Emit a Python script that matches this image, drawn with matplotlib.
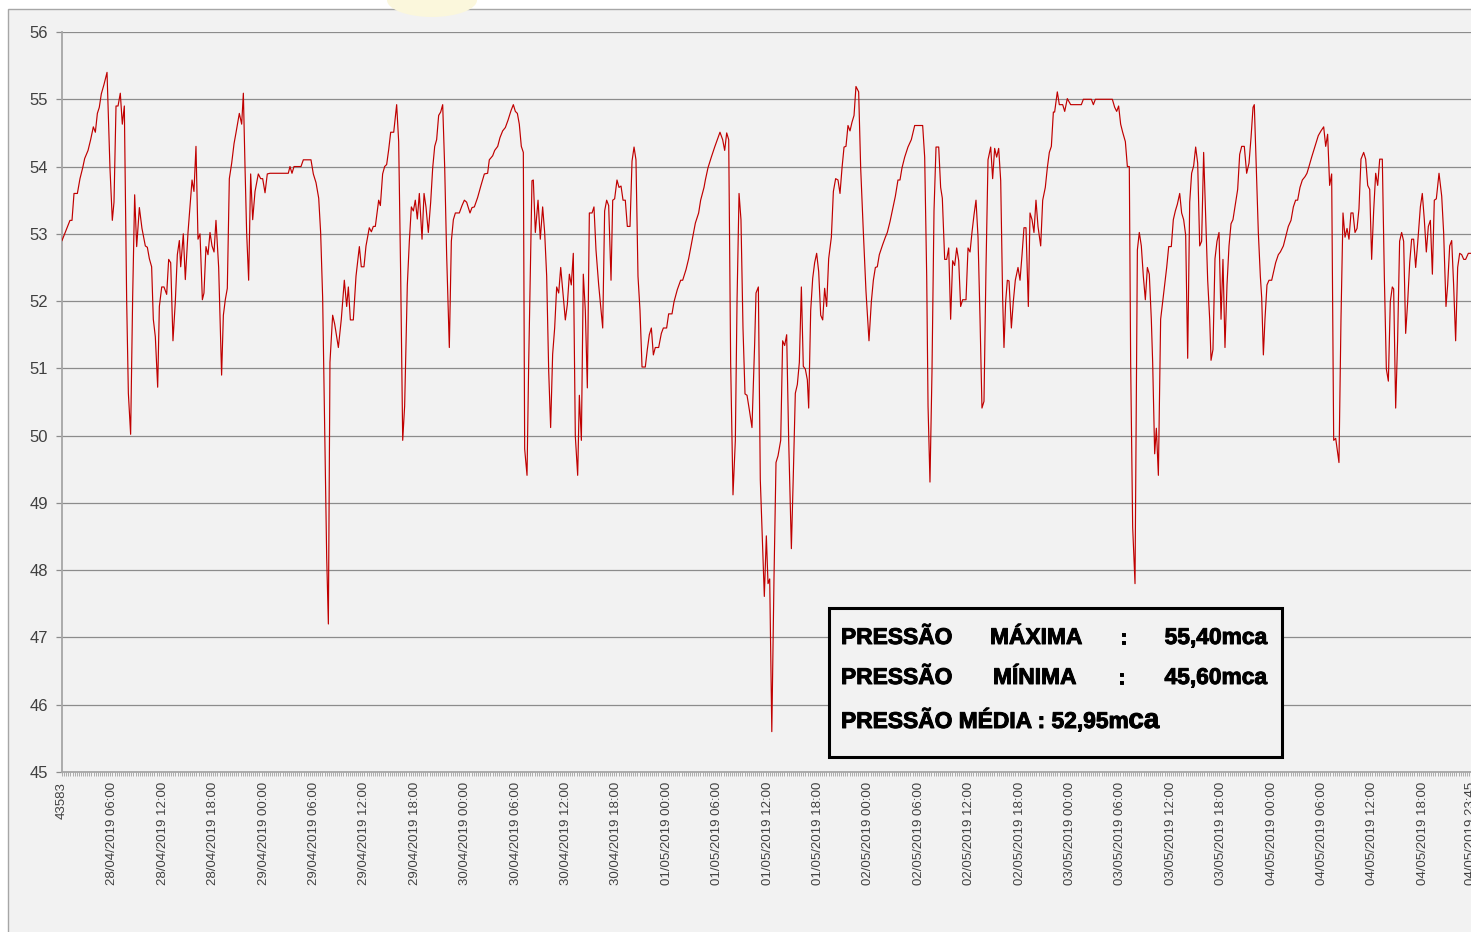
import matplotlib.pyplot as plt
import numpy as np
from matplotlib import patheffects
from matplotlib.patches import Rectangle, Ellipse

W, H = 1471, 932

# hours since 28/04/2019 00:00, pressure in mca
hours = [
    0.0, 0.95, 1.19, 1.43, 1.83, 2.14, 2.46, 2.7, 3.1, 3.41, 3.73, 3.97, 4.21, 4.44, 4.68, 5.0,
    5.36, 5.71, 5.99, 6.19, 6.43, 6.67, 6.94, 7.18, 7.42, 7.7, 7.9, 8.17, 8.41, 8.65, 8.89, 9.21,
    9.52, 9.92, 10.16, 10.4, 10.67, 10.87, 11.11, 11.39, 11.59, 11.87, 12.14, 12.46, 12.7, 12.94,
    13.21, 13.49, 13.73, 13.97, 14.13, 14.44, 14.68, 15.0, 15.24, 15.48, 15.71, 15.95, 16.19,
    16.43, 16.71, 16.9, 17.14, 17.38, 17.62, 17.86, 18.1, 18.33, 18.65, 19.0, 19.21, 19.44, 19.68,
    19.92, 20.2, 20.48, 20.71, 21.11, 21.39, 21.59, 21.79, 21.98, 22.22, 22.46, 22.7, 22.98, 23.37,
    23.65, 23.89, 24.17, 24.44, 24.76, 26.94, 27.14, 27.38, 27.62, 28.45, 28.73, 29.64,
    29.92, 30.24, 30.56, 30.79, 31.03, 31.27, 31.51, 31.71, 31.9, 32.22, 32.46, 32.9, 33.25,
    33.61, 33.89, 34.09, 34.33, 34.68, 35.0, 35.4, 35.63, 35.95, 36.19, 36.58, 36.83, 37.06,
    37.3, 37.7, 37.9, 38.17, 38.41, 38.65, 38.89, 39.13, 39.49, 39.84, 40.08, 40.32, 40.56,
    40.79, 41.11, 41.35, 41.59, 41.83, 42.06, 42.3, 42.54, 42.86, 43.1, 43.33, 43.61, 43.89,
    44.13, 44.37, 44.6, 44.84, 45.08, 45.32, 45.56, 45.79, 46.11, 46.35, 46.59, 46.83, 47.3,
    47.62, 47.9, 48.17, 48.57, 48.81, 49.09, 49.48, 49.88, 50.28, 50.67, 50.87, 51.27, 51.51,
    51.87, 52.14, 52.46, 52.78, 53.1, 53.45, 53.73, 53.97, 54.21, 54.44, 54.68, 54.92, 55.08,
    55.36, 55.56, 55.95,
    56.11, 56.35, 56.67, 56.94, 57.22, 57.46, 57.7, 57.94, 58.17, 58.41, 58.65, 58.89, 59.13,
    59.37, 59.6, 59.92, 60.16, 60.4, 60.63, 60.87, 61.11, 61.39, 61.59, 61.83, 62.06, 62.3,
    62.54, 62.78, 63.1, 63.33, 63.57, 63.89, 64.13, 64.37, 64.6, 64.84, 65.08, 65.36, 65.56,
    65.79, 66.07, 66.31, 66.55, 66.79, 67.06, 67.3, 67.62, 67.86, 68.1, 68.33, 68.57, 68.81,
    69.05, 69.44, 69.68, 69.92, 70.16, 70.4, 70.63, 71.03, 71.35, 71.59, 71.98, 72.22, 72.62,
    72.86, 73.25, 73.65, 73.89, 74.29, 74.6, 74.92, 75.2, 75.4, 75.79, 76.03, 76.43, 76.59,
    76.9, 77.3, 77.7, 78.02, 78.33, 78.65, 78.89, 79.13, 79.37, 79.6, 79.88, 80.16, 80.36,
    80.6, 80.83, 81.07, 81.31, 81.55, 81.83, 82.14, 82.46, 82.62, 82.9, 83.13, 83.33, 83.61,
    83.85, 84.05,
    84.25, 84.5, 84.76, 85.0, 85.24, 85.56, 85.79, 86.03, 86.27, 86.51, 86.83, 87.06, 87.3,
    87.54, 87.78, 88.02, 88.25, 88.49, 88.73, 88.89, 89.13, 89.37, 89.6, 89.84, 90.08, 90.32,
    90.56, 90.79, 91.03, 91.27, 91.59, 91.83, 92.1, 92.38, 92.62, 92.86, 93.1, 93.33, 93.57,
    93.81, 94.05, 94.29, 94.52, 94.84, 95.08, 95.4, 95.71, 96.07, 96.35, 96.59, 96.83, 97.06,
    97.3, 97.7, 98.02, 98.25, 98.57, 98.89, 99.21, 99.52, 99.76, 100.0, 100.32, 100.71,
    101.11, 101.51, 102.46, 102.7, 102.94, 103.1, 103.33, 103.57, 103.81, 104.05, 104.37,
    104.6, 104.8, 105.08, 105.32, 105.56, 105.79, 106.03, 106.27, 106.51, 106.75, 106.98,
    107.22, 107.62, 107.86, 108.1, 108.33, 108.57, 108.81, 109.05, 109.29, 109.52, 109.76,
    110.0, 110.24, 110.56, 110.79, 111.03, 111.27, 111.51, 111.75, 111.98, 112.14,
    112.34, 112.54, 112.74, 113.02, 113.25, 113.49, 113.81, 114.05, 114.29, 114.52, 114.76,
    115.04, 115.24, 115.48, 115.71, 115.95, 116.19, 116.51, 116.75, 117.06, 117.3, 117.54,
    117.78, 118.02, 118.17, 118.49, 118.73, 119.13, 119.37, 119.68, 120.08, 121.35, 121.59,
    122.54, 122.78, 123.02, 125.04, 125.32, 125.56, 125.79, 126.03, 126.27, 126.59, 126.83,
    127.06, 127.22, 127.46, 127.74, 128.02, 128.25, 128.49, 128.73, 128.97, 129.21, 129.44,
    129.68, 129.84, 130.08, 130.28, 130.52, 130.79, 131.03, 131.27, 131.51, 131.75, 132.06,
    132.3, 132.54, 132.78, 133.06, 133.29, 133.53, 133.77, 134.01, 134.25, 134.48, 134.72,
    134.96, 135.2, 135.44, 135.67, 135.91, 136.15, 136.39, 136.63, 136.79, 137.02, 137.26,
    137.5, 137.74, 137.98, 138.21, 138.45, 138.69, 138.93, 139.17, 139.4, 139.64, 139.96,
    140.2, 140.44, 140.75, 141.03, 141.31, 141.55, 141.79, 141.94, 142.18, 142.42, 142.66,
    142.82, 143.02, 143.21, 143.45, 143.69, 144.01, 144.25, 144.48, 144.8, 145.04, 145.4,
    145.67, 145.99, 146.31, 146.59, 146.86, 147.1, 147.38, 147.66, 147.98, 148.21, 148.45,
    148.77, 149.17, 149.56, 149.88, 150.2, 150.44, 150.67, 150.91, 151.15, 151.39, 151.63,
    152.02, 152.26, 152.5, 152.74, 152.98, 153.21, 153.45, 153.69, 153.93, 154.17, 154.4,
    154.64, 154.96, 155.2, 155.44, 155.68, 155.91, 156.15, 156.39, 156.63, 156.87, 157.18,
    157.42, 157.66, 157.9, 158.13, 158.37, 158.53, 158.77, 159.0, 159.24, 159.48, 159.72,
    159.96, 160.2, 160.44, 160.67, 160.91, 161.15, 161.39, 161.71, 161.94, 162.18, 162.42,
    162.66, 162.9, 163.14, 163.37, 163.61, 163.93, 164.25, 164.48, 164.76, 164.96, 165.2,
    165.44, 165.67, 165.91, 166.15, 166.39, 166.63, 166.87, 167.1, 167.42, 167.75,
]

pressure = [
    52.9, 53.2, 53.2, 53.6, 53.6, 53.82, 53.98, 54.12, 54.24, 54.4, 54.59, 54.51, 54.79, 54.88, 55.08, 55.22,
    55.4, 53.98, 53.2, 53.47, 54.9, 54.9, 55.09, 54.63, 54.9, 51.99, 50.63, 50.02, 52.05, 53.58, 52.81, 53.39,
    53.08, 52.82, 52.8, 52.63, 52.51, 51.73, 51.47, 50.72, 51.92, 52.21, 52.21, 52.1, 52.62, 52.57,
    51.41, 51.99, 52.69, 52.9, 52.51, 53.0, 52.32, 53.02, 53.4, 53.8, 53.63, 54.3, 52.92,
    53.0, 52.02, 52.12, 52.81, 52.69, 53.02, 52.82, 52.73, 53.2, 52.5, 50.9, 51.79, 52.02, 52.19,
    53.82, 54.05, 54.34, 54.5, 54.79, 54.63, 55.09, 53.98, 53.02, 52.31, 53.89, 53.21, 53.63, 53.89,
    53.82, 53.82, 53.61, 53.89, 53.9, 53.9, 54.0, 53.9, 54.0, 54.0, 54.1, 54.1,
    53.89, 53.76, 53.53, 53.02, 52.05, 50.12, 48.19, 47.2, 51.09, 51.79, 51.66, 51.31, 51.73,
    52.31, 51.92, 52.21, 51.72, 51.72, 52.37, 52.81, 52.51, 52.51, 52.82, 53.09, 53.03, 53.11,
    53.11, 53.5, 53.42, 53.89, 54.0, 54.03, 54.25, 54.51, 54.51, 54.92, 54.37, 52.37, 49.93,
    50.44, 52.24, 52.89, 53.4, 53.34, 53.5, 53.22, 53.6, 52.92, 53.6, 53.4, 53.02, 53.47,
    53.98, 54.3, 54.4, 54.76, 54.81, 54.92, 53.98, 52.69, 51.31, 52.89, 53.21, 53.31, 53.31,
    53.42, 53.5, 53.47, 53.31, 53.39, 53.4, 53.54, 53.72, 53.89, 53.9, 54.1, 54.16, 54.24,
    54.3, 54.43, 54.53, 54.58, 54.69, 54.83, 54.92, 54.82, 54.79, 54.63, 54.3, 54.21, 49.8,
    49.41, 51.09, 53.79,
    53.8, 53.02, 53.5, 52.92, 53.4, 53.02, 52.37, 50.96, 50.12, 51.21, 51.6, 52.21, 52.12,
    52.5, 52.18, 51.72, 51.95, 52.4, 52.24, 52.71, 49.99, 49.41, 50.6, 49.93, 52.4, 51.86,
    50.71, 53.31, 53.31, 53.4, 52.76, 52.24, 51.92, 51.6, 53.34, 53.5, 53.42, 52.31, 53.5,
    53.52, 53.8, 53.69, 53.71, 53.5, 53.5, 53.11, 53.11, 54.08, 54.29, 54.1, 52.37, 51.86,
    51.02, 51.02, 51.28, 51.5, 51.6, 51.2, 51.31, 51.31, 51.52, 51.6, 51.6, 51.81, 51.81,
    51.99, 52.17, 52.31, 52.31, 52.47, 52.63, 52.84, 53.03, 53.16, 53.31, 53.5, 53.69, 53.8,
    53.98, 54.14, 54.29, 54.4, 54.51, 54.4, 54.24, 54.5, 54.4, 51.09, 49.12, 49.93, 51.99,
    53.6, 53.21, 51.6, 50.62, 50.6, 50.38, 50.12, 51.37, 52.12, 52.21, 49.35, 48.64, 47.61,
    48.51, 47.8,
    47.87, 45.6, 47.87, 49.6, 49.7, 49.93, 51.41, 51.34, 51.5, 49.93, 48.32, 49.41, 50.63,
    50.76, 51.09, 52.21, 51.03, 50.99, 50.83, 50.41, 51.86, 52.34, 52.57, 52.71, 52.44, 51.79,
    51.72, 52.19, 51.92, 52.63, 52.95, 53.63, 53.82, 53.8, 53.6, 53.98, 54.29, 54.3, 54.61,
    54.53, 54.66, 54.76, 55.19, 55.11, 53.98, 53.02, 52.15, 51.41, 51.99, 52.31, 52.5, 52.51,
    52.69, 52.84, 52.95, 53.02, 53.18, 53.37, 53.56, 53.8, 53.8, 53.98, 54.14, 54.29,
    54.4, 54.61, 54.61, 54.14, 52.37, 50.44, 49.31, 50.95, 53.34, 54.29, 54.29,
    53.69, 53.53, 52.62, 52.62, 52.79, 51.73, 52.6, 52.53, 52.79, 52.6, 51.92,
    52.02, 52.02, 52.79, 52.73, 53.02, 53.28, 53.5, 52.95, 51.73, 50.41, 50.51,
    52.5, 54.1, 54.29, 53.82, 54.27, 54.14, 54.27, 53.79, 52.05, 51.31,
    51.99, 52.31, 52.3, 51.6, 51.99, 52.31, 52.5, 52.31, 52.69, 53.09, 53.09,
    51.92, 53.31, 53.21, 53.02, 53.5, 53.11, 52.82, 53.5, 53.69, 53.98, 54.21,
    54.3, 54.81, 54.81, 55.11, 54.92, 54.92, 54.82, 55.01, 54.92, 54.92, 55.0,
    55.0, 54.92, 55.0, 55.0, 54.88, 54.82, 54.9, 54.63, 54.51, 54.37, 54.0,
    54.0, 51.09, 48.64, 47.8, 52.76, 53.02, 52.82, 52.37, 52.02, 52.5, 52.4,
    51.73, 51.09, 49.73, 50.11, 49.41, 51.73, 51.99, 52.24, 52.5, 52.81, 52.81,
    53.21, 53.34, 53.44, 53.6, 53.31, 53.21, 52.98, 51.15, 53.47, 53.9, 54.01,
    54.29, 54.05, 52.82, 52.89, 54.21, 53.27, 52.31, 51.73, 51.12, 51.28, 52.63,
    52.89, 53.02, 51.73, 52.62, 51.31, 52.24, 52.82, 53.15, 53.21, 53.4, 53.66,
    54.18, 54.3, 54.3, 53.9, 54.05, 54.43, 54.88, 54.92, 53.98, 53.02, 52.37,
    52.05, 51.2, 51.73, 52.24, 52.31, 52.31, 52.44, 52.57, 52.69, 52.73, 52.82,
    52.95, 53.11, 53.2, 53.4, 53.5, 53.5, 53.69, 53.8, 53.85, 53.9, 54.0,
    54.14, 54.3, 54.46, 54.53, 54.59, 54.3, 54.48, 53.72, 53.89, 49.93, 49.96,
    49.6, 51.73, 53.31, 52.95, 53.08, 52.92, 53.31, 53.31, 53.02, 53.08, 53.37,
    54.11, 54.21, 54.11, 53.72, 53.66, 52.62, 53.34, 53.9, 53.72, 54.11, 54.11,
    52.37, 50.99, 50.81, 51.99, 52.21, 52.18, 50.41, 51.41, 52.89, 53.02, 52.89,
    51.52, 51.99, 52.57, 52.92, 52.92, 52.5, 52.86, 53.4, 53.6, 53.21, 52.73,
    53.11, 53.2, 52.4, 53.5, 53.52, 53.9, 53.56, 53.02, 51.92, 52.24, 52.82,
    52.9, 52.24, 51.41, 52.5, 52.71, 52.69, 52.62, 52.62, 52.71, 52.71,
]

tick_hours = [0, 6, 12, 18, 24, 30, 36, 42, 48, 54, 60, 66, 72, 78, 84, 90, 96, 102, 108,
              114, 120, 126, 132, 138, 144, 150, 156, 162, 167.75]
tick_labels = [
    '43583',
    '28/04/2019 06:00', '28/04/2019 12:00', '28/04/2019 18:00',
    '29/04/2019 00:00', '29/04/2019 06:00', '29/04/2019 12:00', '29/04/2019 18:00',
    '30/04/2019 00:00', '30/04/2019 06:00', '30/04/2019 12:00', '30/04/2019 18:00',
    '01/05/2019 00:00', '01/05/2019 06:00', '01/05/2019 12:00', '01/05/2019 18:00',
    '02/05/2019 00:00', '02/05/2019 06:00', '02/05/2019 12:00', '02/05/2019 18:00',
    '03/05/2019 00:00', '03/05/2019 06:00', '03/05/2019 12:00', '03/05/2019 18:00',
    '04/05/2019 00:00', '04/05/2019 06:00', '04/05/2019 12:00', '04/05/2019 18:00',
    '04/05/2019 23:45',
]

p_max = max(pressure)
p_min = min(pressure)


def fx(px):
    return px / W


def fy(py):
    return 1 - py / H


plt.rcParams['font.family'] = ['Liberation Sans', 'DejaVu Sans']

fig = plt.figure(figsize=(W / 100, H / 100), dpi=100, facecolor='white')

# chart area background with its grey border (left/top visible)
fig.add_artist(Rectangle((fx(8), -0.05), 1.2, fy(9) + 0.05, transform=fig.transFigure,
                         facecolor='#f2f2f2', edgecolor='#a6a6a6', lw=1.0, zorder=-2))
fig.add_artist(Ellipse((fx(432), fy(0)), 90 / W, 34 / H, transform=fig.transFigure,
                       facecolor='#fbf7dc', edgecolor='none', zorder=-1))

ax = fig.add_axes([fx(62), fy(772), (1473.2 - 62) / W, (772 - 32) / H])
ax.set_facecolor('#f2f2f2')
ax.plot(hours, pressure, color='#c00000', lw=0.85, zorder=3)

ax.set_xlim(0, 168)
ax.set_ylim(45, 56)
ax.set_yticks(range(45, 57))
ax.grid(axis='y', color='#8c8c8c', lw=0.9)
ax.set_axisbelow(True)

for s in ['top', 'right']:
    ax.spines[s].set_visible(False)
for s in ['left', 'bottom']:
    ax.spines[s].set_color('#a6a6a6')
    ax.spines[s].set_linewidth(1.3)

ax.set_xticks(tick_hours)
ax.set_xticklabels(tick_labels, rotation=90, va='top', ha='center')
ax.set_xticks(np.arange(0, 168, 0.25), minor=True)
ax.tick_params(axis='x', which='both', length=3, width=0.6, color='#a0a0a0',
               labelsize=9.5, labelcolor='#404040', pad=4)
ax.tick_params(axis='y', length=4, width=0.9, color='#8c8c8c',
               labelsize=12, labelcolor='#404040', pad=6)

# statistics box
fig.add_artist(Rectangle((fx(829), fy(757)), (1282 - 829) / W, (757 - 608) / H,
                         transform=fig.transFigure, facecolor='#f2f2f2',
                         edgecolor='black', lw=2.2, zorder=5))
thick = [patheffects.withStroke(linewidth=0.7, foreground='black')]
tkw = dict(fontsize=16.4, fontweight='bold', va='baseline', color='black', zorder=6,
           path_effects=thick)
fig.text(fx(841), fy(644), 'PRESSÃO', ha='left', **tkw)
fig.text(fx(990), fy(644), 'MÁXIMA', ha='left', **tkw)
fig.text(fx(1120), fy(644), ':', ha='left', **tkw)
fig.text(fx(1267), fy(644), f'{p_max:.2f}'.replace('.', ',') + 'mca', ha='right', **tkw)
fig.text(fx(841), fy(684), 'PRESSÃO', ha='left', **tkw)
fig.text(fx(993), fy(684), 'MÍNIMA', ha='left', **tkw)
fig.text(fx(1118), fy(684), ':', ha='left', **tkw)
fig.text(fx(1267), fy(684), f'{p_min:.2f}'.replace('.', ',') + 'mca', ha='right', **tkw)
mean_txt = fig.text(fx(841), fy(728), 'PRESSÃO MÉDIA : 52,95m', ha='left', **tkw)

# the "ca" of the mean is set in a bigger size, right after the "m"
fig.canvas.draw()
bb = mean_txt.get_window_extent()
fig.text(bb.x1 / W + 0.5 / W, fy(728), 'ca', ha='left', fontsize=20, fontweight='bold',
         va='baseline', color='black', zorder=6, path_effects=thick)

fig.savefig('out.png', dpi=100, facecolor=fig.get_facecolor())
